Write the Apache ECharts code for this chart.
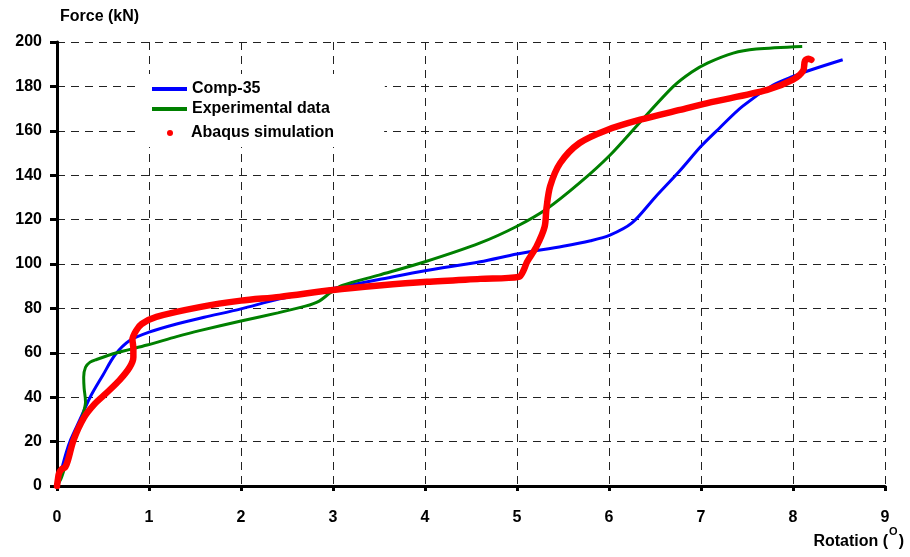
<!DOCTYPE html>
<html>
<head>
<meta charset="utf-8">
<title>Force vs Rotation</title>
<script src="https://cdn.jsdelivr.net/npm/echarts@6/dist/echarts.min.js"></script>
<style>
  html, body { margin: 0; padding: 0; background: #fff; }
  #chart { width: 910px; height: 557px; }
</style>
</head>
<body>
<div id="chart"></div>
<script>
// Rotation (degrees) / Force (kN) pairs for each curve
const comp35 = [
  [0, 0], [0.04, 6], [0.1, 15], [0.15, 21], [0.25, 30], [0.36, 40], [0.5, 50],
  [0.63, 59], [0.79, 65.5], [1.0, 69.3], [1.3, 73], [1.6, 76], [2.0, 79.8],
  [2.42, 84.3], [3.0, 89], [3.5, 93], [4.0, 97], [4.6, 101], [5.0, 104.5],
  [5.5, 108], [5.8, 110.5], [6.01, 113], [6.25, 118.5], [6.5, 130], [6.77, 142],
  [7.0, 153], [7.17, 160], [7.45, 171], [7.78, 180.5], [8.0, 184.5], [8.2, 187.5],
  [8.54, 192]
];
const experimental = [
  [0, 0], [0.05, 4], [0.12, 13], [0.2, 22], [0.28, 32], [0.31, 38], [0.295, 44],
  [0.29, 49], [0.31, 53.5], [0.36, 55.8], [0.43, 57], [0.65, 60], [0.98, 63.5],
  [1.3, 67.3], [1.55, 70], [2.0, 74.3], [2.4, 78], [2.7, 81], [2.85, 83.3],
  [2.97, 87], [3.1, 90.3], [3.5, 95], [4.0, 101], [4.6, 109.5], [5.0, 117],
  [5.33, 125], [5.68, 136.5], [6.01, 149], [6.34, 164], [6.7, 180], [6.9, 186.5],
  [7.07, 190.5], [7.35, 195], [7.6, 196.8], [8.1, 198]
];
const abaqus = [
  [0, 0], [0.01, 3], [0.02, 5.5], [0.05, 7.5], [0.09, 8.5], [0.12, 11.7],
  [0.18, 20.7], [0.29, 30.6], [0.41, 37], [0.54, 42], [0.68, 47.7], [0.79, 53.5],
  [0.83, 58], [0.83, 62], [0.82, 66], [0.86, 70], [0.92, 73], [1.08, 76.2],
  [1.55, 80.6], [2.0, 83.5], [2.42, 85.2], [3.0, 88.3], [3.5, 90.3], [4.02, 92],
  [4.6, 93.3], [5.02, 94.2], [5.07, 97], [5.11, 101], [5.21, 107.7], [5.3, 116.7],
  [5.32, 125], [5.36, 135], [5.47, 145.5], [5.68, 154.5], [5.98, 160.4],
  [6.34, 165], [6.77, 169.4], [7.07, 172.5], [7.72, 178.4], [8.0, 183],
  [8.11, 187], [8.13, 191.5], [8.17, 192.5], [8.2, 192]
];
const seriesNames = ['Comp-35', 'Experimental data', 'Abaqus simulation'];
const xTitle = 'Rotation';
const yTitle = 'Force (kN)';

const font = '"Liberation Sans", Arial, sans-serif';
const chart = echarts.init(document.getElementById('chart'), null, { renderer: 'canvas' });

const dashed = { type: [8, 6], color: '#222', width: 1 };
const legendText = { fontFamily: font, fontWeight: 'bold', fontSize: 16, color: '#000' };

chart.setOption({
  animation: false,
  backgroundColor: '#fff',
  grid: { left: 57, right: 25, top: 42, bottom: 71, containLabel: false },
  legend: [
    {
      data: [
        { name: seriesNames[0], icon: 'rect' },
        { name: seriesNames[1], icon: 'rect' }
      ],
      orient: 'vertical',
      left: 139, top: 74,
      padding: [7, 55, 4, 13],
      backgroundColor: '#fff',
      itemWidth: 35, itemHeight: 4, itemGap: 4,
      textStyle: legendText
    },
    {
      data: [{ name: seriesNames[2], icon: 'circle' }],
      left: 139, top: 120,
      padding: [5, 50, 6, 28],
      backgroundColor: '#fff',
      itemWidth: 6, itemHeight: 6,
      textStyle: Object.assign({ padding: [0, 0, 0, 13] }, legendText)
    }
  ],
  xAxis: {
    type: 'value', min: 0, max: 9, interval: 1,
    axisLine: { show: true, onZero: false, lineStyle: { color: '#000', width: 3 } },
    axisTick: { show: true, inside: false, length: 5, lineStyle: { color: '#000', width: 3 } },
    axisLabel: { margin: 24, fontFamily: font, fontWeight: 'bold', fontSize: 16, color: '#000' },
    splitLine: { show: true, showMinLine: false, lineStyle: dashed }
  },
  yAxis: {
    type: 'value', min: 0, max: 200, interval: 20,
    name: yTitle, nameLocation: 'end', nameGap: 17,
    nameTextStyle: { fontFamily: font, fontWeight: 'bold', fontSize: 16, color: '#000', align: 'left', padding: [0, 0, 0, 3] },
    axisLine: { show: true, onZero: false, lineStyle: { color: '#000', width: 3 } },
    axisTick: { show: true, inside: false, length: 7, lineStyle: { color: '#000', width: 3 } },
    axisLabel: { margin: 15, fontFamily: font, fontWeight: 'bold', fontSize: 16, color: '#000' },
    splitLine: { show: true, showMinLine: false, lineStyle: dashed }
  },
  graphic: [
    {
      type: 'text', right: 6, top: 526,
      style: {
        text: '{a|' + xTitle + ' (}{s|O}{a|)}',
        rich: {
          a: { fontFamily: font, fontWeight: 'bold', fontSize: 16, fill: '#000', lineHeight: 24, verticalAlign: 'bottom' },
          s: { fontFamily: font, fontWeight: 'bold', fontSize: 11, fill: '#000', lineHeight: 24, verticalAlign: 'top', padding: [0, 1, 0, 1] }
        }
      }
    }
  ],
  series: [
    {
      name: seriesNames[0], type: 'line', data: comp35, smooth: 0.3,
      symbol: 'none', color: '#0000ff',
      lineStyle: { color: '#0000ff', width: 3 }, z: 2
    },
    {
      name: seriesNames[1], type: 'line', data: experimental, smooth: 0.3,
      symbol: 'none', color: '#008000',
      lineStyle: { color: '#008000', width: 3 }, z: 3
    },
    {
      name: seriesNames[2], type: 'line', data: abaqus, smooth: 0.3,
      symbol: 'none', color: '#ff0000',
      lineStyle: { color: '#ff0000', width: 6.5, cap: 'round', join: 'round' }, z: 4
    }
  ]
});
</script>
</body>
</html>
